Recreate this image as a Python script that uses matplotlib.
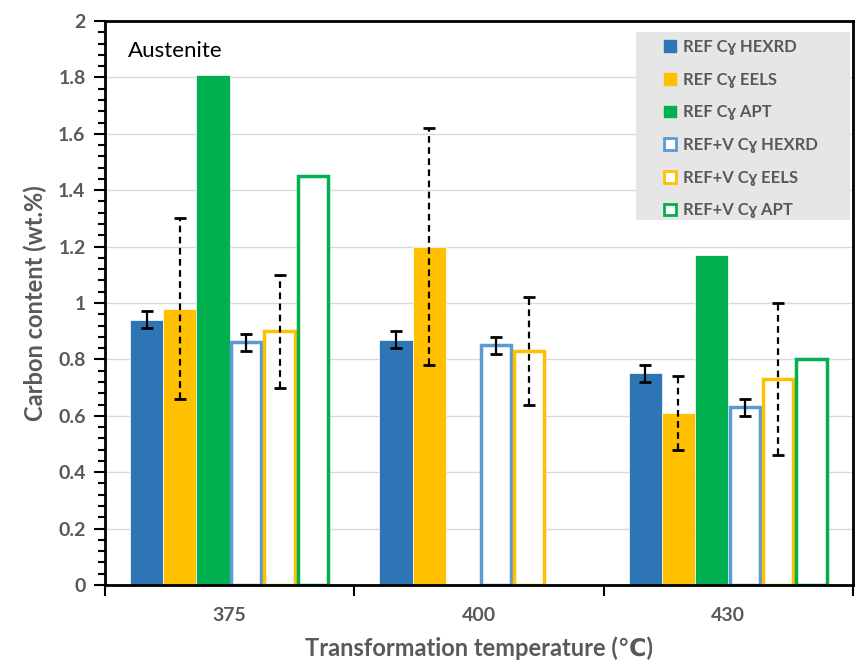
import numpy as np
import matplotlib.pyplot as plt
from matplotlib.patches import Patch, Rectangle
from matplotlib.ticker import MultipleLocator

plt.rcParams['font.family'] = ['Lato', 'DejaVu Sans']

temps = ['375', '400', '430']
labels = ['REF C\u0263 HEXRD', 'REF C\u0263 EELS', 'REF C\u0263 APT',
          'REF+V C\u0263 HEXRD', 'REF+V C\u0263 EELS', 'REF+V C\u0263 APT']

# carbon content per series (nan = not measured)
ref_hexrd = [0.94, 0.87, 0.75]
ref_eels = [0.98, 1.20, 0.61]
ref_apt = [1.81, np.nan, 1.17]
refv_hexrd = [0.86, 0.85, 0.63]
refv_eels = [0.90, 0.83, 0.73]
refv_apt = [1.45, np.nan, 0.80]

# error bars
ref_hexrd_err = [0.03, 0.03, 0.03]
ref_eels_err = [0.32, 0.42, 0.13]
refv_hexrd_err = [0.03, 0.03, 0.03]
refv_eels_err = [0.20, 0.19, 0.27]

series = [ref_hexrd, ref_eels, ref_apt, refv_hexrd, refv_eels, refv_apt]
errors = [ref_hexrd_err, ref_eels_err, None, refv_hexrd_err, refv_eels_err, None]
colors = ['#2E75B6', '#FFC000', '#00B050', '#5B9BD5', '#FFC000', '#00B050']
filled = [True, True, True, False, False, False]
dashed = [False, True, False, False, True, False]

fig = plt.figure(figsize=(8.58, 6.71), dpi=100)
ax = fig.add_axes([0.1224, 0.1282, 0.8718, 0.8405])

x = np.arange(len(temps))
w = 0.8 / 6
for i, vals in enumerate(series):
    pos = x - 0.4 + w * (i + 0.5)
    if filled[i]:
        ax.bar(pos, vals, w, color=colors[i], edgecolor='white', linewidth=0.5, zorder=2)
    else:
        ax.bar(pos, vals, w - 0.012, facecolor='white', edgecolor=colors[i],
               linewidth=2.5, zorder=2)
    if errors[i] is not None:
        eb = ax.errorbar(pos, vals, yerr=errors[i], fmt='none', ecolor='black',
                         elinewidth=1.6, capsize=4, capthick=2, zorder=3)
        if dashed[i]:
            eb[2][0].set_linestyle((0, (3, 2)))

ax.set_xlim(-0.5, 2.5)
ax.set_ylim(0, 2)
ax.set_xticks(x)
ax.set_xticklabels(temps)
ax.set_xticks([-0.5, 0.5, 1.5, 2.5], minor=True)
ax.tick_params(axis='x', which='major', length=0, pad=16, labelsize=14, labelcolor='#595959')
ax.tick_params(axis='x', which='minor', length=8, width=1.5, direction='out')
for t in ax.get_xticklabels():
    t.set_fontweight('bold')

ax.yaxis.set_minor_locator(MultipleLocator(0.04))
ax.set_yticks(np.arange(0, 2.01, 0.2))
ax.set_yticklabels(['0'] + ['%g' % v for v in np.arange(0.2, 2.01, 0.2)])
ax.tick_params(axis='y', which='major', length=8, width=1.5, direction='out',
               labelsize=14, labelcolor='#595959', pad=6)
ax.tick_params(axis='y', which='minor', length=5, width=1.5, direction='out')
for t in ax.get_yticklabels():
    t.set_fontweight('bold')

ax.yaxis.grid(True, color='#d9d9d9', linewidth=1)
ax.set_axisbelow(True)
for s in ax.spines.values():
    s.set_color('black')
    s.set_linewidth(2)

ax.set_ylabel('Carbon content (wt.%)', fontsize=17, fontweight='bold', color='#595959', labelpad=8)
ax.set_xlabel('Transformation temperature (\u2103)', fontsize=17, fontweight='bold',
              color='#595959', labelpad=9)

ax.text(0.03, 0.965, 'Austenite', transform=ax.transAxes, fontsize=16, va='top', color='black')

# legend panel
ax.add_patch(Rectangle((636 / 858, 1 - 220 / 671), 214 / 858, 188 / 671,
                       transform=fig.transFigure, facecolor='#e6e6e6',
                       edgecolor='none', zorder=4, clip_on=False))
handles = []
for i in range(6):
    if filled[i]:
        handles.append(Patch(facecolor=colors[i], edgecolor=colors[i]))
    else:
        handles.append(Patch(facecolor='white', edgecolor=colors[i], linewidth=2))
leg = ax.legend(handles, labels, loc='upper left', bbox_to_anchor=(664 / 858, 1 - 39 / 671),
                bbox_transform=fig.transFigure, borderaxespad=0, frameon=False,
                prop={'weight': 'bold', 'size': 12}, labelspacing=1.0, handlelength=0.7,
                handleheight=0.7, handletextpad=0.45, borderpad=0)
leg.set_zorder(5)
for t in leg.get_texts():
    t.set_color('#595959')

fig.savefig('out.png', dpi=100)
